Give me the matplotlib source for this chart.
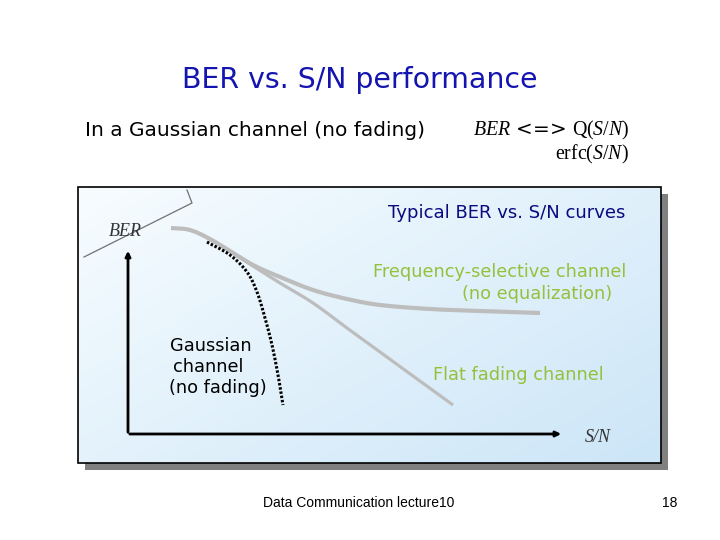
import matplotlib
matplotlib.use("Agg")
import matplotlib.pyplot as plt
import numpy as np
from matplotlib.patches import Rectangle

plt.rcParams["mathtext.fontset"] = "custom"
plt.rcParams["mathtext.rm"] = "Liberation Serif"
plt.rcParams["mathtext.it"] = "Liberation Serif:italic"

# curve shapes (x, y in slide pixels)
freq_sel_x = [171, 190, 210, 230, 253, 280, 313, 347, 380, 430, 480, 540]
freq_sel_y = [228, 230, 239, 251, 265, 277, 290, 299, 305, 309, 311, 313]
flat_x = [230, 253, 280, 313, 347, 380, 413, 453]
flat_y = [251, 266, 283, 303, 328, 352, 376, 405]
gauss_x = [207, 230, 247, 257, 265, 272, 278, 283]
gauss_y = [242, 255, 272, 292, 318, 345, 375, 405]

BLUE = "#1414b0"
NAVY = "#0a0a80"
GREEN = "#94c13c"
GREY = "#bdbdbd"


def smooth(xs, ys, n=12):
    # Catmull-Rom pass through the read points, only to draw a rounded line
    p = np.column_stack([xs, ys]).astype(float)
    p = np.vstack([2 * p[0] - p[1], p, 2 * p[-1] - p[-2]])
    out = []
    for i in range(1, len(p) - 2):
        p0, p1, p2, p3 = p[i - 1], p[i], p[i + 1], p[i + 2]
        for t in np.linspace(0, 1, n, endpoint=False):
            out.append(0.5 * (2 * p1 + (-p0 + p2) * t
                              + (2 * p0 - 5 * p1 + 4 * p2 - p3) * t ** 2
                              + (-p0 + 3 * p1 - 3 * p2 + p3) * t ** 3))
    out.append(p[-2])
    out = np.array(out)
    return out[:, 0], out[:, 1]


fig = plt.figure(figsize=(7.2, 5.4), dpi=100)
ax = fig.add_axes([0, 0, 1, 1])
ax.set_xlim(0, 720); ax.set_ylim(540, 0); ax.axis("off")

# --- headings ---
ax.text(360, 80, "BER vs. S/N performance", ha="center", va="center",
        fontsize=20.4, color=BLUE, family="DejaVu Sans")
ax.text(85, 130, "In a Gaussian channel (no fading)", ha="left", va="center",
        fontsize=14.5, color="black", family="DejaVu Sans")
ax.text(629, 130, r"$\mathit{BER}$ <=> $\mathrm{Q}(\mathit{S/N})$", ha="right", va="center",
        fontsize=14.3, color="black", family="DejaVu Sans")
ax.text(629, 154, r"$\mathrm{erfc}(\mathit{S/N})$", ha="right", va="center",
        fontsize=14.3, color="black")

# --- panel with shadow and gradient ---
x0, y0, x1, y1 = 78, 187, 661, 463
ax.add_patch(Rectangle((x0 + 7, y0 + 7), x1 - x0, y1 - y0, facecolor="#808080",
                       edgecolor="none", zorder=1))
gx, gy = np.meshgrid(np.linspace(0, 1, 200), np.linspace(0, 1, 100))
t = (0.55 * gx + 0.45 * gy)
c0 = np.array([0.97, 0.99, 1.0]); c1 = np.array([0.80, 0.90, 0.97])
grad = c0[None, None, :] * (1 - t[..., None]) + c1[None, None, :] * t[..., None]
ax.imshow(grad, extent=(x0, x1, y1, y0), aspect="auto", zorder=2)
ax.add_patch(Rectangle((x0, y0), x1 - x0, y1 - y0, facecolor="none",
                       edgecolor="black", linewidth=1.2, zorder=3))

# --- axes of the sketch ---
ax.annotate("", xy=(128, 248), xytext=(128, 435),
            arrowprops=dict(arrowstyle="-|>,head_length=0.3,head_width=0.15",
                            color="black", lw=2), zorder=4)
ax.annotate("", xy=(564, 434), xytext=(127, 434),
            arrowprops=dict(arrowstyle="-|>,head_length=0.3,head_width=0.15",
                            color="black", lw=2), zorder=4)
ax.plot([84, 192, 187], [257, 203, 190], color="#707070", lw=0.9, zorder=4)
ax.text(125, 231, "BER", ha="center", va="center", fontsize=13, style="italic",
        family="Liberation Serif", color="#333333", zorder=5)
ax.text(598, 437, "S/N", ha="center", va="center", fontsize=13, style="italic",
        family="Liberation Serif", color="#333333", zorder=5)

# --- curves ---
ax.plot(*smooth(flat_x, flat_y), color=GREY, lw=2.3, solid_capstyle="butt", zorder=5)
ax.plot(*smooth(freq_sel_x, freq_sel_y), color=GREY, lw=3.0, solid_capstyle="butt", zorder=5)
ax.plot(*smooth(gauss_x, gauss_y), color="black", lw=2.2, linestyle=(0, (0.8, 0.6)), zorder=6)

# --- curve labels ---
ax.text(388, 213, "Typical BER vs. S/N curves", ha="left", va="center",
        fontsize=13, color=NAVY, zorder=7)
ax.text(373, 272, "Frequency-selective channel", ha="left", va="center",
        fontsize=12.8, color=GREEN, zorder=7)
ax.text(462, 294, "(no equalization)", ha="left", va="center",
        fontsize=12.8, color=GREEN, zorder=7)
ax.text(433, 375, "Flat fading channel", ha="left", va="center",
        fontsize=12.8, color=GREEN, zorder=7)
ax.text(170, 346, "Gaussian", ha="left", va="center", fontsize=12.8, color="black", zorder=7)
ax.text(173, 367, "channel", ha="left", va="center", fontsize=12.8, color="black", zorder=7)
ax.text(169, 388, "(no fading)", ha="left", va="center", fontsize=12.8, color="black", zorder=7)

# --- footer ---
ax.text(263, 503, "Data Communication lecture10", ha="left", va="center",
        fontsize=10, family="Liberation Sans", color="black")
ax.text(670, 503, "18", ha="center", va="center",
        fontsize=10, family="Liberation Sans", color="black")

fig.savefig("out.png", dpi=100)
